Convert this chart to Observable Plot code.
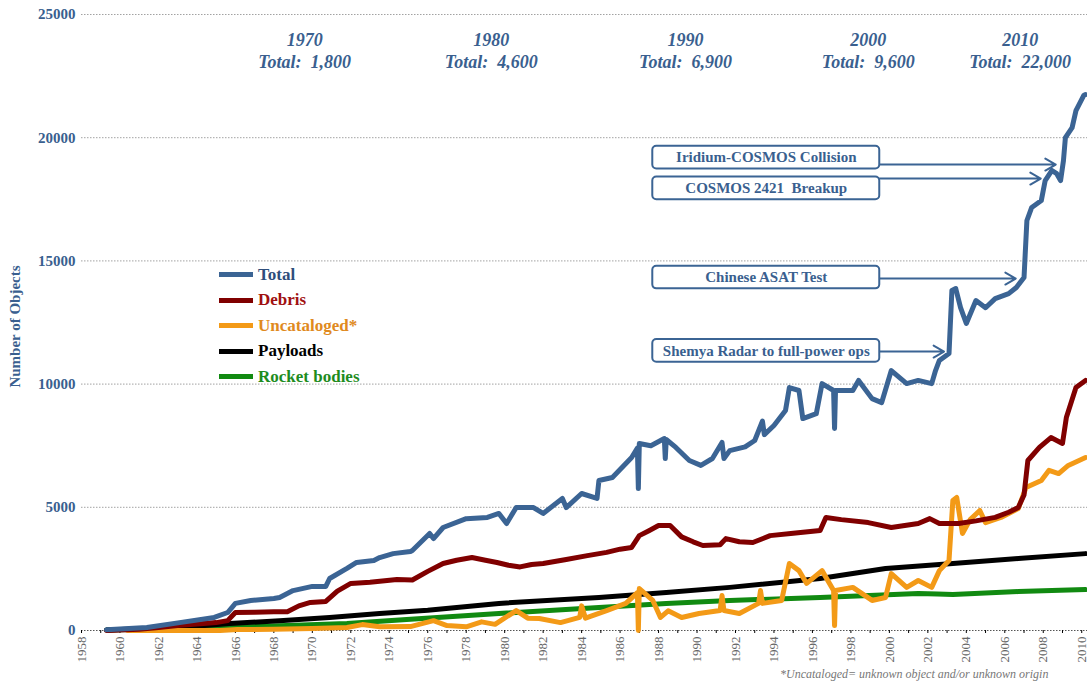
<!DOCTYPE html>
<html>
<head>
<meta charset="utf-8">
<script src="https://cdn.jsdelivr.net/npm/d3@7"></script>
<script src="https://cdn.jsdelivr.net/npm/@observablehq/plot@0.6"></script>
<style>
  html, body { margin: 0; padding: 0; background: #fff; }
  #wrap { position: relative; width: 1087px; height: 684px; font-family: "Liberation Serif", "Times New Roman", serif; }
  #legend { position: absolute; left: 219px; top: 262px; }
  .lrow { display: flex; align-items: center; height: 25.5px; font-weight: bold; font-size: 17px; }
  .sw { width: 34px; height: 5px; margin-right: 5px; }
  #caption { position: absolute; left: 780px; top: 667px; font-style: italic; font-size: 12px; color: #777; white-space: nowrap; }
  svg g[aria-label="x-axis tick label"] { font-size: 13px; }
  svg g[aria-label="y-axis tick label"] { font-size: 15px; font-weight: bold; }
</style>
</head>
<body>
<div id="wrap">
  <div id="chart"></div>
  <div id="legend"></div>
  <div id="caption">*Uncataloged= unknown object and/or unknown origin</div>
</div>
<script>
// ---- data (year, number of objects) ----
const total = [[1959.3,30],[1960,60],[1961.4,120],[1963.1,320],[1964.9,530],[1965.6,730],[1966,1100],[1966.8,1220],[1968,1300],[1968.3,1340],[1969,1620],[1970,1790],[1970.7,1790],[1970.9,2110],[1971.8,2520],[1972.3,2760],[1973.2,2840],[1973.5,2960],[1974.2,3120],[1975.1,3210],[1975.2,3250],[1976.1,3940],[1976.3,3730],[1976.8,4180],[1978,4540],[1979.1,4590],[1979.7,4750],[1980.1,4340],[1980.6,4990],[1981.5,4990],[1982,4750],[1983,5360],[1983.2,4990],[1984,5560],[1984.8,5360],[1984.9,6090],[1985.6,6210],[1986.6,7020],[1986.9,7400],[1986.95,5760],[1987,7590],[1987.6,7500],[1988.3,7790],[1988.35,6980],[1988.4,7750],[1988.9,7430],[1989.6,6900],[1990.2,6700],[1990.8,6980],[1991.3,7630],[1991.4,6980],[1991.7,7300],[1992.5,7450],[1993,7710],[1993.4,8500],[1993.5,7950],[1994,8320],[1994.6,8930],[1994.8,9860],[1995.3,9740],[1995.5,8600],[1996.2,8800],[1996.5,10020],[1997.1,9740],[1997.15,8200],[1997.2,9740],[1998.1,9740],[1998.4,10150],[1999.1,9410],[1999.6,9250],[2000.1,10550],[2000.9,10020],[2001.5,10150],[2002.2,10020],[2002.4,10550],[2002.6,10960],[2003.1,11240],[2003.25,13800],[2003.45,13880],[2003.7,13100],[2004,12460],[2004.5,13390],[2005,13100],[2005.5,13470],[2006.2,13670],[2006.6,13920],[2007,14325],[2007.15,16640],[2007.4,17170],[2007.9,17450],[2008.1,18260],[2008.45,18670],[2008.7,18540],[2008.9,18260],[2009.05,19070],[2009.15,20000],[2009.5,20410],[2009.7,21100],[2010.1,21710],[2010.2,21750]];
const debris = [[1959.3,0],[1961,50],[1962,120],[1963,200],[1964,260],[1965,320],[1965.6,400],[1966,730],[1967,740],[1968,760],[1968.7,760],[1969.3,1000],[1969.9,1140],[1970.7,1180],[1971.3,1600],[1972,1910],[1973,1960],[1974.4,2070],[1975.2,2050],[1976,2400],[1976.8,2720],[1977.5,2850],[1978.3,2960],[1979,2850],[1979.6,2760],[1980.2,2650],[1980.8,2580],[1981.4,2680],[1982,2720],[1983.2,2880],[1984.3,3040],[1985.3,3170],[1986,3300],[1986.6,3370],[1987,3850],[1987.5,4050],[1988,4260],[1988.6,4260],[1989.2,3800],[1989.8,3600],[1990.3,3450],[1991.2,3480],[1991.5,3730],[1992.2,3600],[1992.9,3570],[1993.8,3850],[1995,3950],[1996.4,4060],[1996.7,4590],[1997.5,4500],[1998.9,4380],[2000.1,4180],[2001.5,4340],[2002.1,4540],[2002.6,4340],[2003.6,4340],[2004.5,4450],[2005.5,4590],[2006.2,4800],[2006.7,4990],[2007,5500],[2007.2,6900],[2007.8,7430],[2008.4,7830],[2009,7590],[2009.2,8640],[2009.7,9860],[2010.2,10150]];
const uncataloged = [[1960.4,0],[1965.2,0],[1966.1,40],[1968,50],[1970,80],[1971.8,120],[1972.6,240],[1973.5,150],[1975.1,160],[1976.3,400],[1977,200],[1978,150],[1978.8,350],[1979.5,250],[1980.6,810],[1981.2,500],[1981.8,490],[1982.9,320],[1983.9,530],[1984,1000],[1984.2,500],[1985.3,810],[1986.3,1100],[1986.9,1540],[1986.95,0],[1987,1700],[1987.7,1220],[1988.1,530],[1988.5,800],[1989.2,530],[1990.1,690],[1991.2,810],[1991.3,1420],[1991.4,810],[1992.2,690],[1993.2,1100],[1993.3,1620],[1993.4,1100],[1994.4,1220],[1994.8,2720],[1995.3,2430],[1995.7,1910],[1996.5,2430],[1997.1,1620],[1997.15,200],[1997.2,1620],[1998.1,1750],[1999.1,1220],[1999.8,1340],[2000.1,2310],[2000.9,1750],[2001.5,2030],[2002.2,1750],[2002.6,2430],[2003.1,2840],[2003.3,5280],[2003.5,5400],[2003.8,3940],[2004.2,4500],[2004.7,4870],[2005,4380],[2005.8,4590],[2006.7,4950],[2007.1,5800],[2007.9,6090],[2008.3,6500],[2008.8,6370],[2009.3,6700],[2010.2,7020]];
const payloads = [[1959.3,20],[1963.1,120],[1965.7,280],[1968.3,400],[1970.9,530],[1973.5,690],[1976,820],[1979.7,1100],[1984.9,1340],[1988.4,1540],[1991.7,1750],[1996.4,2110],[1999.8,2520],[2003.3,2720],[2006.7,2920],[2010.2,3120]];
const rocketBodies = [[1959.3,20],[1963.1,80],[1967.1,160],[1971.8,280],[1974.9,450],[1979.7,690],[1984.9,930],[1988.4,1100],[1991.7,1220],[1996.4,1340],[2001.5,1500],[2002.5,1480],[2003.3,1460],[2006.7,1580],[2010.2,1660]];

const seriesNames = ["Total", "Debris", "Uncataloged*", "Payloads", "Rocket bodies"];
const seriesColors = ["#3B6494", "#800000", "#F39A17", "#000000", "#118A11"];
const legendTextColors = ["#2E4D7B", "#A01010", "#E08A1E", "#000000", "#1E8C1E"];

const yTicks = [0, 5000, 10000, 15000, 20000, 25000];
const allYears = d3.range(1958, 2011);
const evenYears = d3.range(1958, 2011, 2);

// decade milestone annotations
const milestoneYears = ["1970", "1980", "1990", "2000", "2010"];
const milestoneTotals = ["1,800", "4,600", "6,900", "9,600", "22,000"];
const milestoneAt = [1969.6, 1979.3, 1989.4, 1998.9, 2006.8];

// event annotations (arrow target year / count)
const eventLabels = ["Iridium-COSMOS Collision", "COSMOS 2421  Breakup", "Chinese ASAT Test", "Shemya Radar to full-power ops"];
const eventYear = [2008.65, 2007.87, 2006.57, 2002.84];
const eventCount = [18910, 18342, 14284, 11322];
const eventBoxCenter = [19190, 17940, 14325, 11345];
const boxFrom = 1987.7, boxTo = 1999.5, boxHalf = 460;

const blue = "#3A5F8F";
const lineOf = (data, i) => Plot.line(data, {x: d => d[0], y: d => d[1], stroke: seriesColors[i], strokeWidth: 5, strokeLinejoin: "round", strokeLinecap: "round"});
const ev = d3.range(eventLabels.length);

const chart = Plot.plot({
  width: 1087,
  height: 684,
  marginLeft: 81,
  marginRight: 0,
  marginTop: 14,
  marginBottom: 54,
  x: {domain: [1958, 2010.3]},
  y: {domain: [0, 25000]},
  style: {fontFamily: "'Liberation Serif', 'Times New Roman', serif", background: "white", overflow: "visible"},
  marks: [
    Plot.gridY(yTicks.filter(d => d > 0), {stroke: "#8a8a8a", strokeOpacity: 1, strokeWidth: 0.8, strokeDasharray: "1.5,1.5"}),
    Plot.ruleY([0], {stroke: "#555", strokeWidth: 1, strokeDasharray: "1.5,1.5"}),
    Plot.axisY(yTicks, {tickSize: 0, tickPadding: 6, tickFormat: d => String(d), fontSize: 15, fontWeight: "bold", fill: blue, label: null}),
    Plot.axisX(allYears, {tickSize: 3, stroke: "#000", tickFormat: () => "", label: null}),
    Plot.axisX(evenYears, {tickSize: 0, tickPadding: 6, tickRotate: -90, tickFormat: d => String(d), fontSize: 13, fill: "#666", label: null}),
    Plot.text(["Number of Objects"], {frameAnchor: "left", textAnchor: "middle", rotate: -90, dx: -66, dy: 4, fontSize: 15, fontWeight: "bold", fill: blue}),
    lineOf(rocketBodies, 4),
    lineOf(payloads, 3),
    lineOf(uncataloged, 2),
    lineOf(debris, 1),
    lineOf(total, 0),
    Plot.text(milestoneYears.map((y, i) => i), {
      x: i => milestoneAt[i], frameAnchor: "top", lineAnchor: "top", dy: 17, lineHeight: 1.17,
      text: i => `${milestoneYears[i]}\nTotal:  ${milestoneTotals[i]}`,
      fontSize: 18, fontStyle: "italic", fontWeight: "bold", fill: blue
    }),
    Plot.arrow(ev, {x1: boxTo, x2: i => eventYear[i], y1: i => eventCount[i], y2: i => eventCount[i], stroke: "#3B6494", strokeWidth: 2, headLength: 9, bend: 0}),
    Plot.rect(ev, {x1: boxFrom, x2: boxTo, y1: i => eventBoxCenter[i] - boxHalf, y2: i => eventBoxCenter[i] + boxHalf, rx: 4, fill: "white", stroke: "#3B6494", strokeWidth: 2}),
    Plot.text(ev, {x: (boxFrom + boxTo) / 2, y: i => eventBoxCenter[i], text: i => eventLabels[i], fontSize: 15, fontWeight: "bold", fill: blue})
  ]
});
document.getElementById("chart").appendChild(chart);

const legend = d3.select("#legend");
seriesNames.forEach((n, i) => {
  const row = legend.append("div").attr("class", "lrow");
  row.append("div").attr("class", "sw").style("background", seriesColors[i]);
  row.append("span").style("color", legendTextColors[i]).text(n);
});
</script>
</body>
</html>
